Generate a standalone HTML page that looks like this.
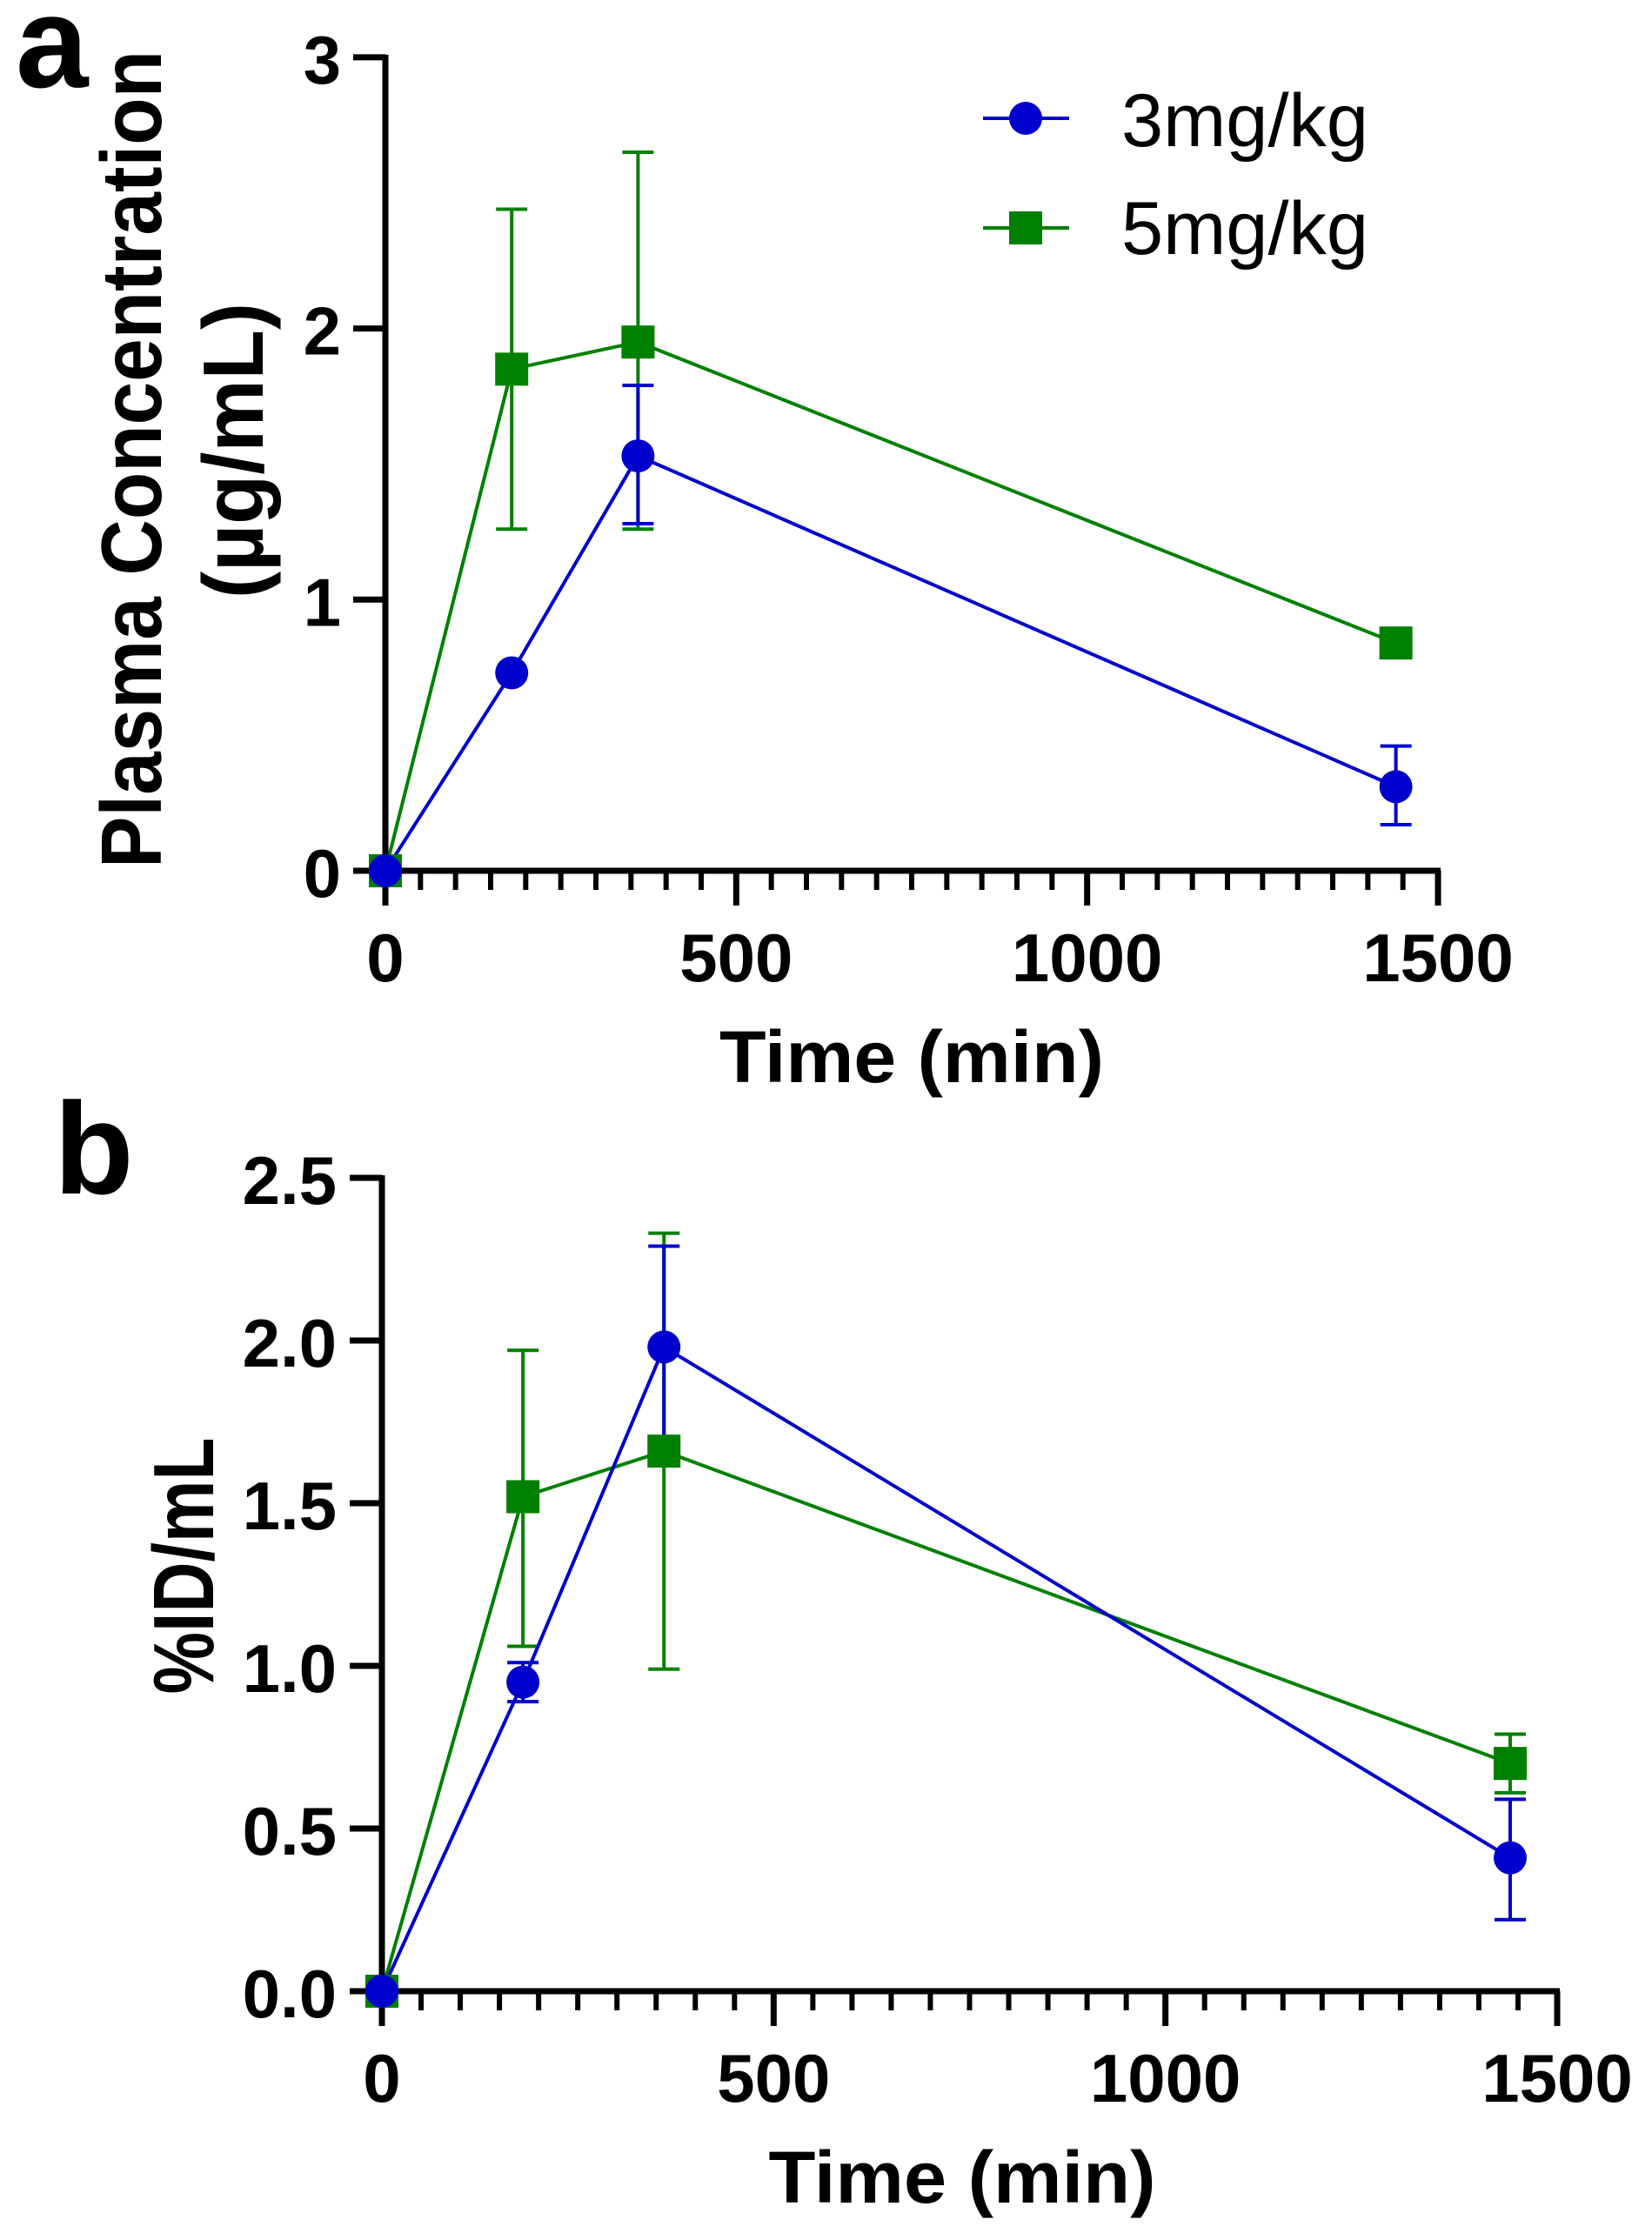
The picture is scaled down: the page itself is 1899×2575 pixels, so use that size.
<!DOCTYPE html>
<html><head><meta charset="utf-8"><style>html,body{margin:0;padding:0;background:#fff}svg{display:block}</style></head>
<body>
<svg id="s" xmlns="http://www.w3.org/2000/svg" width="1899" height="2575" viewBox="0 0 1899 2575" font-family="Liberation Sans, Arial, sans-serif">
<rect width="1899" height="2575" fill="#fff"/>
<text x="18" y="100" font-size="150" font-weight="bold">a</text>
<text x="62" y="1372" font-size="150" font-weight="bold">b</text>
<text transform="translate(185,528) rotate(-90)" text-anchor="middle" font-size="98" font-weight="bold" textLength="940" lengthAdjust="spacingAndGlyphs">Plasma Concentration</text>
<text transform="translate(302,518) rotate(-90)" text-anchor="middle" font-size="98" font-weight="bold" textLength="340" lengthAdjust="spacingAndGlyphs">(µg/mL)</text>
<text transform="translate(245,1800) rotate(-90)" text-anchor="middle" font-size="98" font-weight="bold" textLength="295" lengthAdjust="spacingAndGlyphs">%ID/mL</text>
<text x="1048" y="1244" text-anchor="middle" font-size="84" font-weight="bold" textLength="442" lengthAdjust="spacingAndGlyphs">Time (min)</text>
<text x="1106" y="2532" text-anchor="middle" font-size="84" font-weight="bold" textLength="445" lengthAdjust="spacingAndGlyphs">Time (min)</text>
<line x1="1130" y1="136" x2="1229" y2="136" stroke="#0000cc" stroke-width="4"/>
<circle cx="1179" cy="136" r="19" fill="#0000cc"/>
<line x1="1130" y1="262" x2="1229" y2="262" stroke="#008000" stroke-width="4"/>
<rect x="1160" y="243" width="38" height="38" fill="#008000"/>
<text x="1289" y="168" font-size="86" textLength="284" lengthAdjust="spacingAndGlyphs">3mg/kg</text>
<text x="1289" y="292" font-size="86" textLength="284" lengthAdjust="spacingAndGlyphs">5mg/kg</text>
<g id="g"></g>
</svg>
<script>
var g=document.getElementById('g'),out='';
function P(o){
 var X=function(v){return o.x0+(o.x1-o.x0)*v/1500},Y=function(v){return o.y0-o.py*v};
 // series
 o.series.forEach(function(s){
  var pts=s.d.map(function(d){return X(d[0])+','+Y(d[1])}).join(' ');
  out+='<polyline points="'+pts+'" fill="none" stroke="'+s.c+'" stroke-width="4"/>';
  s.d.forEach(function(d){ if(d[2]!=null){var x=X(d[0]);
    out+='<line x1="'+x+'" y1="'+Y(d[2])+'" x2="'+x+'" y2="'+Y(d[3])+'" stroke="'+s.c+'" stroke-width="4"/>';
    out+='<line x1="'+(x-18)+'" y1="'+Y(d[2])+'" x2="'+(x+18)+'" y2="'+Y(d[2])+'" stroke="'+s.c+'" stroke-width="4"/>';
    out+='<line x1="'+(x-18)+'" y1="'+Y(d[3])+'" x2="'+(x+18)+'" y2="'+Y(d[3])+'" stroke="'+s.c+'" stroke-width="4"/>';}});
 });
 // axes
 out+='<line x1="'+o.x0+'" y1="'+(Y(o.ymax)-3)+'" x2="'+o.x0+'" y2="'+(o.y0+40)+'" stroke="#000" stroke-width="7"/>';
 out+='<line x1="'+(o.x0-37)+'" y1="'+o.y0+'" x2="'+(o.x1+3)+'" y2="'+o.y0+'" stroke="#000" stroke-width="7"/>';
 for(var t=50;t<1500;t+=50){ if(t%500) out+='<line x1="'+X(t)+'" y1="'+o.y0+'" x2="'+X(t)+'" y2="'+(o.y0+22)+'" stroke="#000" stroke-width="6"/>';}
 [0,500,1000,1500].forEach(function(t){
  out+='<line x1="'+X(t)+'" y1="'+o.y0+'" x2="'+X(t)+'" y2="'+(o.y0+40)+'" stroke="#000" stroke-width="7"/>';
  out+='<text x="'+X(t)+'" y="'+(o.y0+127)+'" text-anchor="middle" font-size="78" font-weight="bold">'+t+'</text>';});
 o.yt.forEach(function(t){var y=Y(t[0]);
  out+='<line x1="'+(o.x0-37)+'" y1="'+y+'" x2="'+o.x0+'" y2="'+y+'" stroke="#000" stroke-width="7"/>';
  out+='<text x="'+o.lx+'" y="'+(y+30)+'" text-anchor="end" font-size="78" font-weight="bold">'+t[1]+'</text>';});
 // markers
 o.series.forEach(function(s){ s.d.forEach(function(d){var x=X(d[0]),y=Y(d[1]);
  if(s.m=='sq') out+='<rect x="'+(x-19)+'" y="'+(y-19)+'" width="38" height="38" fill="'+s.c+'"/>';
  else out+='<circle cx="'+x+'" cy="'+y+'" r="19" fill="'+s.c+'"/>';});});
}
P({x0:443,x1:1653,y0:1001,py:311.7,ymax:3,lx:392,
 yt:[[0,'0'],[1,'1'],[2,'2'],[3,'3']],
 series:[
 {c:'#008000',m:'sq',d:[[0,0],[180,1.85,1.26,2.44],[360,1.95,1.26,2.65],[1440,0.84,0.81,0.87]]},
 {c:'#0000cc',m:'c',d:[[0,0],[180,0.73],[360,1.53,1.28,1.79],[1440,0.31,0.17,0.46]]}]});
P({x0:439,x1:1790,y0:2289,py:374,ymax:2.5,lx:387,
 yt:[[0,'0.0'],[0.5,'0.5'],[1,'1.0'],[1.5,'1.5'],[2,'2.0'],[2.5,'2.5']],
 series:[
 {c:'#008000',m:'sq',d:[[0,0],[180,1.52,1.06,1.97],[360,1.66,0.99,2.33],[1440,0.70,0.61,0.79]]},
 {c:'#0000cc',m:'c',d:[[0,0],[180,0.95,0.89,1.01],[360,1.98,1.68,2.29],[1440,0.41,0.22,0.59]]}]});
g.innerHTML=out;
</script>
</body></html>
